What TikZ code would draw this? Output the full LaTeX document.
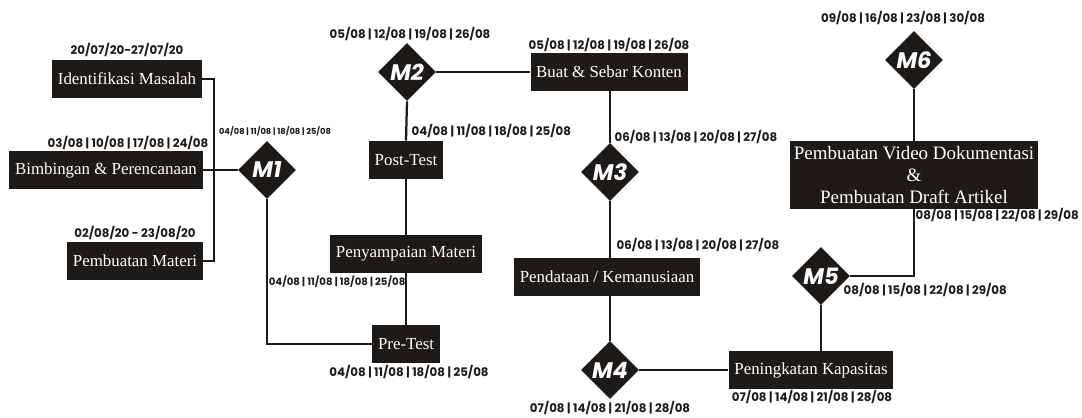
\documentclass[tikz,border=0pt]{standalone}
\usepackage{fontspec}
\setmainfont{Liberation Serif}
\newfontfamily\datefont{Poppins}
\usetikzlibrary{shapes.geometric}
\definecolor{boxfill}{HTML}{1E1A18}
\begin{document}
\begin{tikzpicture}[x=0.025cm, y=-0.025cm,
  task/.style={fill=boxfill, text=white, font=\fontsize{12}{15.6}\selectfont,
    minimum height=0.95cm, inner xsep=4pt, inner ysep=1pt, align=center},
  mile/.style={diamond, fill=boxfill, text=white, minimum size=1.45cm, inner sep=0pt,
    font=\datefont\bfseries\itshape\fontsize{16}{16}\selectfont},
  date/.style={font=\datefont\bfseries\fontsize{8.4}{10}\selectfont, inner sep=1pt, text=boxfill},
  link/.style={draw=boxfill, line width=1.6pt}]
  \useasboundingbox (0,0) rectangle (1082,417);
  % Tasks
  \node[task] (idm) at (127,79) {Identifikasi Masalah};
  \node[task] (bim) at (106,170) {Bimbingan \& Perencanaan};
  \node[task] (pbm) at (135,261) {Pembuatan Materi};
  \node[task] (pre) at (406,344) {Pre-Test};
  \node[task] (pny) at (406,254) {Penyampaian Materi};
  \node[task] (pst) at (406,160) {Post-Test};
  \node[task] (bsk) at (609,72) {Buat \& Sebar Konten};
  \node[task] (pdk) at (607,277) {Pendataan / Kemanusiaan};
  \node[task] (kap) at (811,370) {Peningkatan Kapasitas};
  \node[task, font=\fontsize{13.5}{15.8}\selectfont, minimum height=1.7cm, inner xsep=3pt]
    (vid) at (914,175) {Pembuatan Video Dokumentasi\\\&\\Pembuatan Draft Artikel};
  % Milestones
  \node[mile] (m1) at (267,170) {M1};
  \node[mile] (m2) at (407,72) {M2};
  \node[mile] (m3) at (610,172) {M3};
  \node[mile] (m4) at (610,370) {M4};
  \node[mile] (m5) at (821,276) {M5};
  \node[mile] (m6) at (914,60) {M6};
  % Links
  \draw[link] (idm.east) -- ++(12,0) |- (pbm.east);
  \draw[link] (bim.east) -- (m1.west);
  \draw[link] (m1.south) |- (pre.west);
  \draw[link] (pre.north) -- (pny.south);
  \draw[link] (pny.north) -- (pst.south);
  \draw[link] (pst.north) -- (m2.south);
  \draw[link] (m2.east) -- (bsk.west);
  \draw[link] (m3.north) -- (m3.north |- bsk.south);
  \draw[link] (m3.south) -- (m3.south |- pdk.north);
  \draw[link] (m4.north) -- (m4.north |- pdk.south);
  \draw[link] (m4.east) -- (kap.west);
  \draw[link] (m5.south) -- (m5.south |- kap.north);
  \draw[link] (m5.east) -| (vid.south);
  \draw[link] (m6.south) -- (vid.north);
  % Dates
  \node[date] (d1) at (127,50) {20/07/20-27/07/20};
  \node[date] (d2) at (128,143) {03/08 | 10/08 | 17/08 | 24/08};
  \node[date] (d3) at (135,233) {02/08/20 - 23/08/20};
  \node[date, font=\datefont\bfseries\fontsize{5.9}{7}\selectfont] (d4) at (275,131) {04/08 | 11/08 | 18/08 | 25/08};
  \node[date] (d5) at (410,34) {05/08 | 12/08 | 19/08 | 26/08};
  \node[date] (d6) at (609,45) {05/08 | 12/08 | 19/08 | 26/08};
  \node[date, anchor=west] (d7) at (410,131) {04/08 | 11/08 | 18/08 | 25/08};
  \node[date, anchor=east, font=\datefont\bfseries\fontsize{7.2}{9}\selectfont] (d8) at (407,282) {04/08 | 11/08 | 18/08 | 25/08};
  \node[date] (d9) at (409,372) {04/08 | 11/08 | 18/08 | 25/08};
  \node[date, anchor=west] (d10) at (613,137) {06/08 | 13/08 | 20/08 | 27/08};
  \node[date, anchor=west] (d11) at (615,245) {06/08 | 13/08 | 20/08 | 27/08};
  \node[date] (d12) at (610,408) {07/08 | 14/08 | 21/08 | 28/08};
  \node[date] (d13) at (812,397) {07/08 | 14/08 | 21/08 | 28/08};
  \node[date, anchor=west] (d14) at (842,290) {08/08 | 15/08 | 22/08 | 29/08};
  \node[date, anchor=west] (d15) at (914,215) {08/08 | 15/08 | 22/08 | 29/08};
  \node[date] (d16) at (903,18) {09/08 | 16/08 | 23/08 | 30/08};
\end{tikzpicture}
\end{document}
